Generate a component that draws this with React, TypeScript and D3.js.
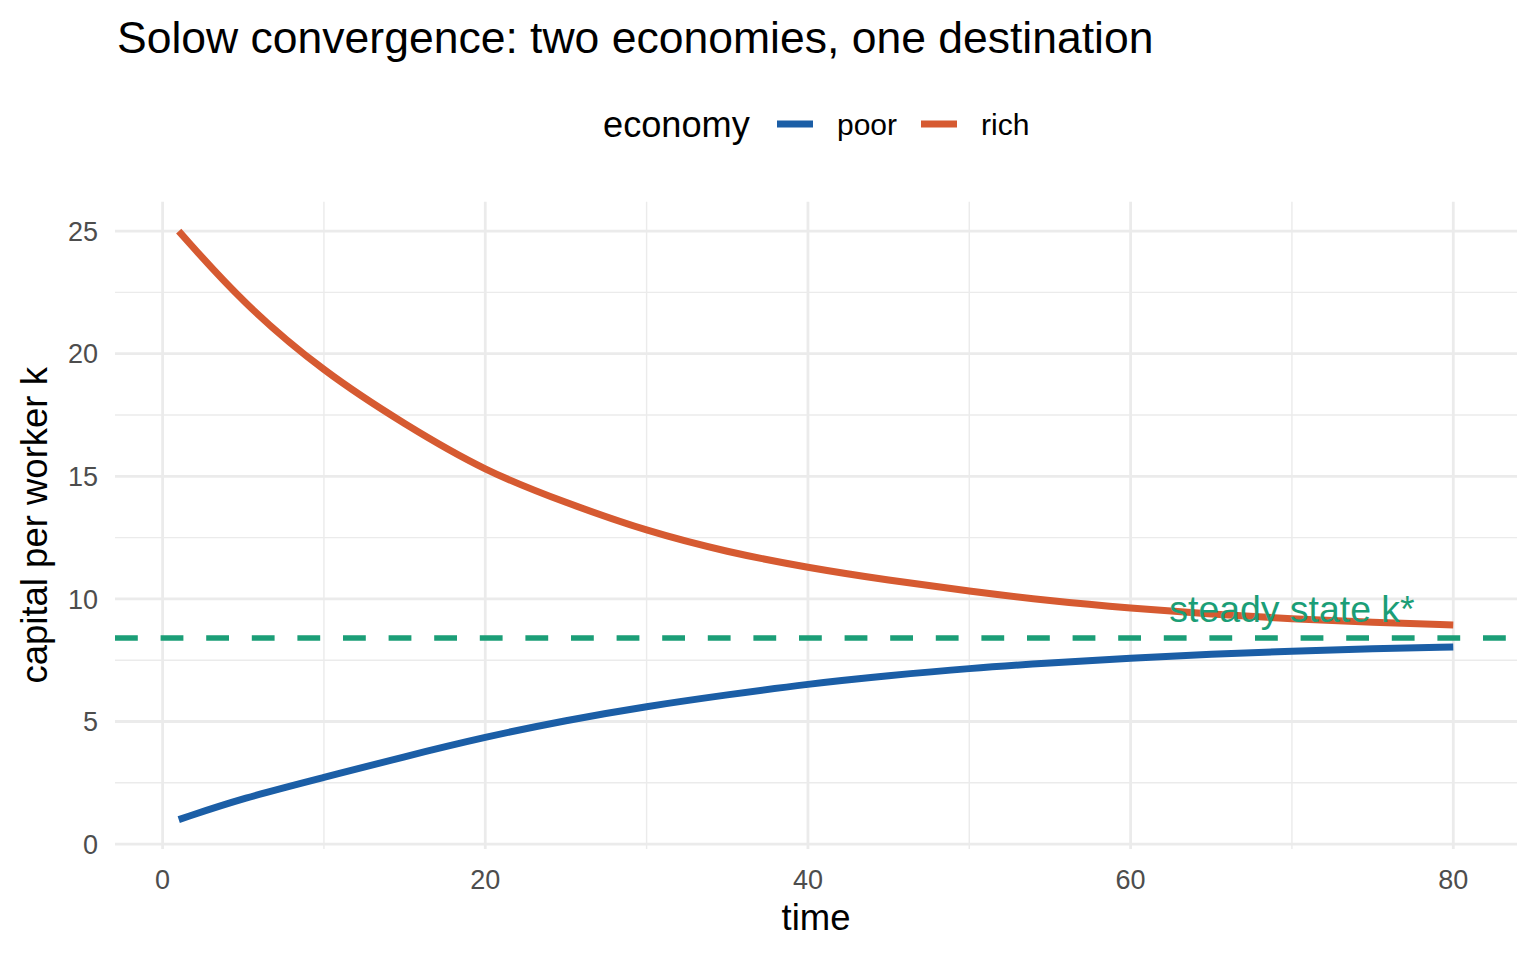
import React from 'react';
import * as d3 from 'd3';

const time = [1, 5, 10, 15, 20, 25, 30, 35, 40, 45, 50, 55, 60, 65, 70, 75, 80];
const poor = [1.0, 1.88, 2.72, 3.57, 4.37, 5.05, 5.62, 6.09, 6.53, 6.87, 7.17, 7.39, 7.58, 7.75, 7.87, 7.97, 8.04];
const rich = [25.0, 22.04, 19.25, 17.12, 15.2, 13.92, 12.76, 11.91, 11.27, 10.76, 10.31, 9.92, 9.62, 9.38, 9.18, 9.04, 8.94];
const kStar = 8.41;
const seriesNames = ['poor', 'rich'];
const seriesColors = ['#1B5EA6', '#D65A31'];
const xTicks = [0, 20, 40, 60, 80];
const xMinor = [10, 30, 50, 70];
const yTicks = [0, 5, 10, 15, 20, 25];
const yMinor = [2.5, 7.5, 12.5, 17.5, 22.5];
const titleText = 'Solow convergence: two economies, one destination';
const legendTitle = 'economy';
const xLabel = 'time';
const yLabel = 'capital per worker k';
const annotationText = 'steady state k*';
const annotationX = 70;

const FONT = '"Liberation Sans", Arial, Helvetica, sans-serif';

export default function App() {
  const W = 1536;
  const H = 960;
  const left = 115, right = 1517, top = 201.7, bottom = 849;

  const tExt = d3.extent(time) as [number, number];
  const tPad = (tExt[1] - tExt[0]) * 0.05;
  const yAll = [...poor, ...rich, kStar];
  const yExt = d3.extent(yAll) as [number, number];
  const yPad = (yExt[1] - yExt[0]) * 0.05;

  const x = d3.scaleLinear().domain([tExt[0] - tPad, tExt[1] + tPad]).range([left, right]);
  const y = d3.scaleLinear().domain([yExt[0] - yPad, yExt[1] + yPad]).range([bottom, top]);

  const line = d3
    .line<number>()
    .x((_, i) => x(time[i]))
    .y((d) => y(d))
    .curve(d3.curveBasis);

  const series = [poor, rich];
  const grid = '#EBEBEB';

  return (
    <div style={{ position: 'absolute', left: 0, top: 0 }}>
      <svg width={W} height={H} style={{ display: 'block', background: '#fff' }} fontFamily={FONT}>
        <rect x={0} y={0} width={W} height={H} fill="#fff" />
        {/* minor grid */}
        {xMinor.map((t) => (
          <line key={'xm' + t} x1={x(t)} x2={x(t)} y1={top} y2={bottom} stroke={grid} strokeWidth={1.4} />
        ))}
        {yMinor.map((v) => (
          <line key={'ym' + v} x1={left} x2={right} y1={y(v)} y2={y(v)} stroke={grid} strokeWidth={1.4} />
        ))}
        {/* major grid */}
        {xTicks.map((t) => (
          <line key={'xM' + t} x1={x(t)} x2={x(t)} y1={top} y2={bottom} stroke={grid} strokeWidth={2.8} />
        ))}
        {yTicks.map((v) => (
          <line key={'yM' + v} x1={left} x2={right} y1={y(v)} y2={y(v)} stroke={grid} strokeWidth={2.8} />
        ))}

        {/* steady state */}
        <line
          x1={left}
          x2={right}
          y1={y(kStar)}
          y2={y(kStar)}
          stroke="#1B9E77"
          strokeWidth={5.5}
          strokeDasharray="22.8 22.8"
        />

        {series.map((s, i) => (
          <path key={seriesNames[i]} d={line(s) || ''} fill="none" stroke={seriesColors[i]} strokeWidth={7} strokeLinecap="butt" strokeLinejoin="round" />
        ))}

        <text x={x(annotationX)} y={y(kStar) - 16} textAnchor="middle" fontSize={37.4} fill="#1B9E77">
          {annotationText}
        </text>

        {/* y tick labels */}
        {yTicks.map((v) => (
          <text key={'yl' + v} x={98} y={y(v)} dy="0.36em" textAnchor="end" fontSize={27} fill="#4D4D4D">
            {v}
          </text>
        ))}
        {/* x tick labels */}
        {xTicks.map((t) => (
          <text key={'xl' + t} x={x(t)} y={889} textAnchor="middle" fontSize={27} fill="#4D4D4D">
            {t}
          </text>
        ))}

        <text x={(left + right) / 2} y={930} textAnchor="middle" fontSize={36.5} fill="#000">
          {xLabel}
        </text>
        <text transform={`translate(47, ${(top + bottom) / 2}) rotate(-90)`} textAnchor="middle" fontSize={36.5} fill="#000">
          {yLabel}
        </text>

        <text x={117} y={53} fontSize={44.5} fill="#000">
          {titleText}
        </text>

        {/* legend */}
        <text x={603} y={124} dy="0.36em" fontSize={36.2} fill="#000">
          {legendTitle}
        </text>
        {seriesNames.map((n, i) => {
          const kx = [777, 921][i];
          return (
            <g key={'lg' + n}>
              <line x1={kx} x2={kx + 36} y1={124} y2={124} stroke={seriesColors[i]} strokeWidth={7} />
              <text x={kx + 60} y={124} dy="0.36em" fontSize={30} fill="#000">
                {n}
              </text>
            </g>
          );
        })}
      </svg>
    </div>
  );
}
